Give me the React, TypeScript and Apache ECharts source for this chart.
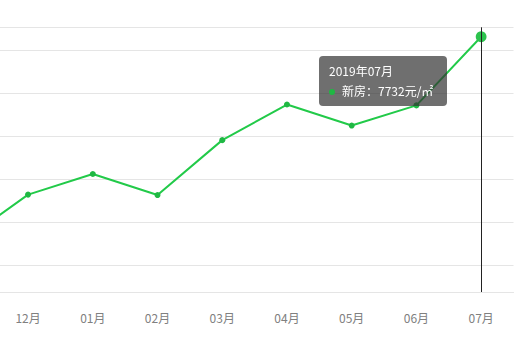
import React, { useEffect, useRef } from "react";
import * as echarts from "echarts";

const categories: string[] = [
  "2018年11月",
  "2018年12月",
  "2019年01月",
  "2019年02月",
  "2019年03月",
  "2019年04月",
  "2019年05月",
  "2019年06月",
  "2019年07月",
];
const newHousePrice: number[] = [7256, 7364, 7412, 7363, 7491, 7574, 7525, 7572, 7732];
const seriesName = "新房";
const unit = "元/㎡";
const yMin = 7137;
const yMax = 7754;

const GREEN = "#1fb843";
const FONT = "'Noto Sans CJK SC', 'Noto Sans', sans-serif";

export default function App() {
  const ref = useRef<HTMLDivElement>(null);

  useEffect(() => {
    document.body.style.margin = "0";
    if (!ref.current) return;
    const chart = echarts.init(ref.current, undefined, { renderer: "svg" });
    chart.setOption({
      animation: false,
      textStyle: { fontFamily: FONT },
      grid: {
        left: -69,
        right: 3.5,
        top: 27.3,
        bottom: 45,
        containLabel: false,
        outerBoundsMode: "none",
      },
      tooltip: {
        trigger: "axis",
        alwaysShowContent: true,
        position: [319, 56],
        backgroundColor: "rgba(50,50,50,0.7)",
        borderWidth: 0,
        padding: [5, 10],
        textStyle: { color: "#fff", fontSize: 12, fontFamily: FONT },
        extraCssText: "box-shadow:none;border-radius:4px;line-height:20px;",
        axisPointer: {
          type: "line",
          lineStyle: { color: "#222", width: 1, type: "solid" },
        },
        formatter: (params: any) => {
          const p = Array.isArray(params) ? params[0] : params;
          return (
            `<div style="line-height:20px;font-size:12px;color:#fff">${p.name}</div>` +
            `<div style="line-height:20px;font-size:12px;color:#fff;padding-right:4px">` +
            `<span style="display:inline-block;width:6px;height:6px;border-radius:3px;background:${GREEN};margin-right:7px;vertical-align:middle;position:relative;top:-1px"></span>` +
            `${p.seriesName}：${p.value}${unit}</div>`
          );
        },
      },
      xAxis: {
        type: "category",
        data: categories,
        boundaryGap: true,
        axisLine: { show: true, lineStyle: { color: "#e5e5e5", width: 1 } },
        axisTick: { show: false },
        axisLabel: {
          color: "#808080",
          fontSize: 12,
          margin: 19,
          fontFamily: FONT,
          interval: (index: number) => index > 0,
          formatter: (v: string) => v.slice(5),
        },
        splitLine: { show: false },
      },
      yAxis: {
        type: "value",
        min: yMin,
        max: yMax,
        axisLine: { show: false },
        axisTick: { show: false },
        axisLabel: { show: false },
        splitLine: { show: true, lineStyle: { color: "#e5e5e5", width: 1 } },
      },
      series: [
        {
          name: seriesName,
          type: "line",
          data: newHousePrice,
          symbol: "circle",
          symbolSize: 6,
          showSymbol: true,
          lineStyle: { color: GREEN, width: 2 },
          itemStyle: { color: GREEN, borderWidth: 0 },
          emphasis: {
            scale: 1.8,
            lineStyle: { width: 2 },
            itemStyle: { color: "#2cc34d" },
          },
        },
      ],
    });
    chart.dispatchAction({ type: "showTip", seriesIndex: 0, dataIndex: categories.length - 1 });
    return () => {
      chart.dispose();
    };
  }, []);

  return (
    <div
      ref={ref}
      style={{ position: "fixed", left: 0, top: 0, width: 517, height: 337, background: "#fff" }}
    />
  );
}
